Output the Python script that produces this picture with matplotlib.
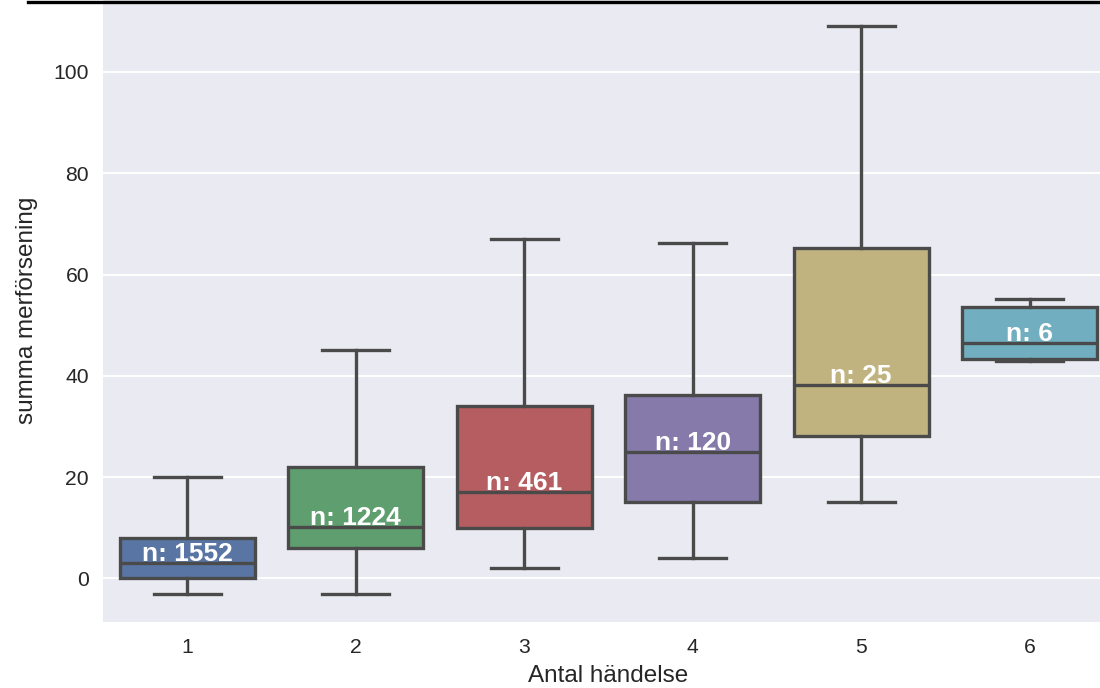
import colorsys
import matplotlib
matplotlib.use("Agg")
import matplotlib.pyplot as plt
from matplotlib.lines import Line2D
import matplotlib.colors as mcolors

# ---- data ----
categories = ["1", "2", "3", "4", "5", "6"]
counts = [1552, 1224, 461, 120, 25, 6]
whisker_low = [-3, -3, 2, 4, 15, 42.9]
q1 = [0, 6, 10, 15, 28.2, 43.3]
medians = [3, 10.2, 17, 24.9, 38.2, 46.5]
q3 = [7.9, 22.1, 34, 36.2, 65.2, 53.5]
whisker_high = [20, 45.2, 67, 66.2, 109, 55.1]
palette = ["#4C72B0", "#55A868", "#C44E52", "#8172B2", "#CCB974", "#64B5CD"]
xlabel = "Antal händelse"
ylabel = "summa merförsening"


def desaturate(color, prop):
    r, g, b = mcolors.to_rgb(color)
    h, l, s = colorsys.rgb_to_hls(r, g, b)
    return colorsys.hls_to_rgb(h, l, s * prop)


plt.rcParams["font.family"] = ["Liberation Sans", "DejaVu Sans"]

fig = plt.figure(figsize=(11, 6.88), dpi=100)
fig.patch.set_facecolor("white")
ax = fig.add_axes([103 / 1100, 66 / 688, 1011 / 1100, 624 / 688])
ax.set_facecolor("#EAEAF2")
for s in ax.spines.values():
    s.set_visible(False)
ax.grid(axis="y", color="white", lw=1.4)
ax.set_axisbelow(True)

stats = []
for i in range(len(categories)):
    stats.append(dict(med=medians[i], q1=q1[i], q3=q3[i],
                      whislo=whisker_low[i], whishi=whisker_high[i],
                      fliers=[], label=categories[i]))

gray = "#4a4a4a"
lw = 2.4
positions = list(range(len(categories)))
bp = ax.bxp(stats, positions=positions, widths=0.8, capwidths=0.4,
            patch_artist=True, showfliers=False,
            boxprops=dict(edgecolor=gray, linewidth=lw),
            whiskerprops=dict(color=gray, linewidth=lw),
            capprops=dict(color=gray, linewidth=lw),
            medianprops=dict(color=gray, linewidth=lw))
for patch, c in zip(bp["boxes"], palette):
    patch.set_facecolor(desaturate(c, 0.75))

for p, m, n in zip(positions, medians, counts):
    ax.text(p, m + 0.4, f"n: {n}", ha="center", va="baseline",
            color="white", fontsize=19, fontweight="bold")

ax.set_xlim(-0.5, 5.5)
ax.set_ylim(-8.6, 114.6)
ax.set_yticks([0, 20, 40, 60, 80, 100])
ax.tick_params(axis="both", length=0, labelsize=15.2, colors="#262626")
ax.tick_params(axis="y", pad=10)
ax.tick_params(axis="x", pad=11.5)
ax.set_xlabel(xlabel, fontsize=17.5, color="#262626", labelpad=6)
ax.set_ylabel(ylabel, fontsize=17.5, color="#262626", labelpad=11)

# screenshot top border
fig.add_artist(Line2D([28 / 1100, 1.0], [1 - 1.5 / 688] * 2,
                      transform=fig.transFigure, color="black", lw=2.4))

fig.savefig("out.png", dpi=100)
